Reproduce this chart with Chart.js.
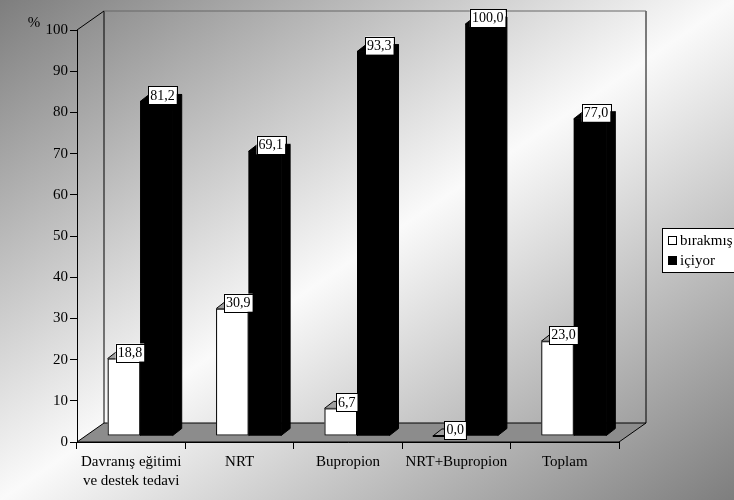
<!DOCTYPE html>
<html>
<head>
<meta charset="utf-8">
<script src="https://cdn.jsdelivr.net/npm/chart.js@4/dist/chart.umd.min.js"></script>
<style>
  html, body { margin: 0; padding: 0; background: #fff; }
  canvas { display: block; }
</style>
</head>
<body>
<canvas id="grafik" width="734" height="500"></canvas>
<script>
// veriler
const kategoriler = [['Davranış eğitimi', 've destek tedavi'], 'NRT', 'Bupropion', 'NRT+Bupropion', 'Toplam'];
const birakmis = [18.8, 30.9, 6.7, 0.0, 23.0];
const iciyor = [81.2, 69.1, 93.3, 100.0, 77.0];
const seriler = ['bırakmış', 'içiyor'];
const yMin = 0, yMax = 100, yAdim = 10;

const SERIF = '"Liberation Serif", "Times New Roman", serif';

// 3B görünüm için kaydırmalar
const DUVAR_DX = 27, DUVAR_DY = 19;   // arka duvar
const BAR_DX = 9, BAR_DY = 6;         // sütunların durduğu düzlem
const DERIN_DX = 9, DERIN_DY = 7;     // sütun derinliği

function fmt(v) {
    return v.toFixed(1).replace('.', ',');
}

const zeminPlugin = {
    id: 'zemin',
    beforeDraw(chart) {
        const c = chart.ctx, a = chart.chartArea;
        const W = chart.width, H = chart.height;
        // köşegen gradyan arka plan
        const cx = W / 2, cy = H / 2, t = 0.465;
        const g = c.createLinearGradient(cx - 500 * t, cy - 734 * t, cx + 500 * t, cy + 734 * t);
        g.addColorStop(0, '#7e7e7e');
        g.addColorStop(0.5, '#fafafa');
        g.addColorStop(1, '#7e7e7e');
        c.save();
        c.fillStyle = g;
        c.fillRect(0, 0, W, H);

        // taban
        c.beginPath();
        c.moveTo(a.left, a.bottom);
        c.lineTo(a.right, a.bottom);
        c.lineTo(a.right + DUVAR_DX, a.bottom - DUVAR_DY);
        c.lineTo(a.left + DUVAR_DX, a.bottom - DUVAR_DY);
        c.closePath();
        c.fillStyle = '#8c8c8c';
        c.fill();
        c.strokeStyle = '#000';
        c.lineWidth = 1;
        c.stroke();

        // duvar çizgileri
        c.beginPath();
        c.moveTo(a.left, a.top);
        c.lineTo(a.left + DUVAR_DX, a.top - DUVAR_DY);
        c.lineTo(a.left + DUVAR_DX, a.bottom - DUVAR_DY);
        c.moveTo(a.right + DUVAR_DX, a.top - DUVAR_DY);
        c.lineTo(a.right + DUVAR_DX, a.bottom - DUVAR_DY);
        c.stroke();
        c.beginPath();
        c.strokeStyle = '#666';
        c.moveTo(a.left + DUVAR_DX, a.top - DUVAR_DY);
        c.lineTo(a.right + DUVAR_DX, a.top - DUVAR_DY);
        c.stroke();
        c.restore();
    }
};

const sutunPlugin = {
    id: 'sutun3b',
    afterDatasetsDraw(chart) {
        const c = chart.ctx;
        const renkler = ['#ffffff', '#000000'];
        const ustRenk = ['#a0a0a0', '#000000'];
        c.save();
        c.lineWidth = 1;
        for (let j = 0; j < kategoriler.length; j++) {
            for (let i = 0; i < chart.data.datasets.length; i++) {
                const el = chart.getDatasetMeta(i).data[j];
                const p = el.getProps(['x', 'y', 'base', 'width'], true);
                const x0 = p.x - p.width / 2 + BAR_DX, x1 = p.x + p.width / 2 + BAR_DX;
                const top = p.y - BAR_DY, base = p.base - BAR_DY;
                c.strokeStyle = '#000';
                // üst yüz
                c.beginPath();
                c.moveTo(x0, top);
                c.lineTo(x0 + DERIN_DX, top - DERIN_DY);
                c.lineTo(x1 + DERIN_DX, top - DERIN_DY);
                c.lineTo(x1, top);
                c.closePath();
                c.fillStyle = ustRenk[i];
                c.fill();
                c.stroke();
                // yan yüz
                c.beginPath();
                c.moveTo(x1, top);
                c.lineTo(x1 + DERIN_DX, top - DERIN_DY);
                c.lineTo(x1 + DERIN_DX, base - DERIN_DY);
                c.lineTo(x1, base);
                c.closePath();
                c.fillStyle = i === 0 ? '#d0d0d0' : '#000';
                c.fill();
                c.stroke();
                // ön yüz
                c.fillStyle = renkler[i];
                c.fillRect(x0, top, x1 - x0, base - top);
                c.strokeRect(x0 + 0.5, top + 0.5, x1 - x0 - 1, base - top - 1);
            }
        }
        // değer etiketleri
        c.font = '14px ' + SERIF;
        c.textAlign = 'center';
        c.textBaseline = 'middle';
        for (let i = 0; i < chart.data.datasets.length; i++) {
            const ds = chart.data.datasets[i];
            chart.getDatasetMeta(i).data.forEach((el, j) => {
                const p = el.getProps(['x', 'y'], true);
                const metin = fmt(ds.data[j]);
                const w = c.measureText(metin).width + 4;
                const cx = p.x + BAR_DX + 6;
                const top = p.y - BAR_DY;
                const y0 = top - 15;
                c.fillStyle = '#fff';
                c.fillRect(cx - w / 2, y0, w, 18);
                c.strokeStyle = '#000';
                c.strokeRect(Math.round(cx - w / 2) + 0.5, Math.round(y0) + 0.5, Math.round(w), 18);
                c.fillStyle = '#000';
                c.fillText(metin, cx, y0 + 9.5);
            });
        }
        c.restore();
    },
    afterDraw(chart) {
        const c = chart.ctx, a = chart.chartArea;
        c.save();
        // % etiketi
        c.font = '15px ' + SERIF;
        c.fillStyle = '#000';
        c.textAlign = 'center';
        c.textBaseline = 'middle';
        c.fillText('%', 34, a.top - 7);
        // açıklama kutusu
        const lx = 662, ly = 228;
        c.fillStyle = '#fff';
        c.fillRect(lx, ly, 90, 44);
        c.strokeStyle = '#000';
        c.lineWidth = 1;
        c.strokeRect(lx + 0.5, ly + 0.5, 90, 44);
        c.textAlign = 'left';
        seriler.forEach((ad, i) => {
            const yy = ly + 13 + i * 20;
            c.fillStyle = i === 0 ? '#fff' : '#000';
            c.fillRect(lx + 6, yy - 5, 9, 9);
            c.strokeStyle = '#000';
            c.strokeRect(lx + 6.5, yy - 4.5, 8, 8);
            c.fillStyle = '#000';
            c.fillText(ad, lx + 18, yy);
        });
        c.restore();
    }
};

const ctx = document.getElementById('grafik').getContext('2d');
const grafik = new Chart(ctx, {
    type: 'bar',
    data: {
        labels: kategoriler,
        datasets: [{
            label: seriler[0],
            data: birakmis,
            backgroundColor: 'rgba(0,0,0,0)'
        }, {
            label: seriler[1],
            data: iciyor,
            backgroundColor: 'rgba(0,0,0,0)'
        }]
    },
    options: {
        responsive: false,
        animation: false,
        devicePixelRatio: 1,
        categoryPercentage: 0.6,
        barPercentage: 1,
        layout: { padding: { top: 30, right: 115, left: 0, bottom: 0 } },
        plugins: {
            legend: { display: false },
            tooltip: { enabled: false }
        },
        scales: {
            x: {
                grid: { drawOnChartArea: false, tickLength: 7, color: '#000', offset: true },
                border: { color: '#000' },
                ticks: { color: '#000', padding: 4, maxRotation: 0, font: { family: SERIF, size: 15, lineHeight: 1.25 } },
                afterFit: s => { s.height = 58; }
            },
            y: {
                min: yMin,
                max: yMax,
                grid: { drawOnChartArea: false, tickLength: 7, color: '#000' },
                border: { color: '#000' },
                ticks: { stepSize: yAdim, color: '#000', padding: 2, font: { family: SERIF, size: 15 } },
                afterFit: s => { s.width = 77; }
            }
        }
    },
    plugins: [zeminPlugin, sutunPlugin]
});
</script>
</body>
</html>
